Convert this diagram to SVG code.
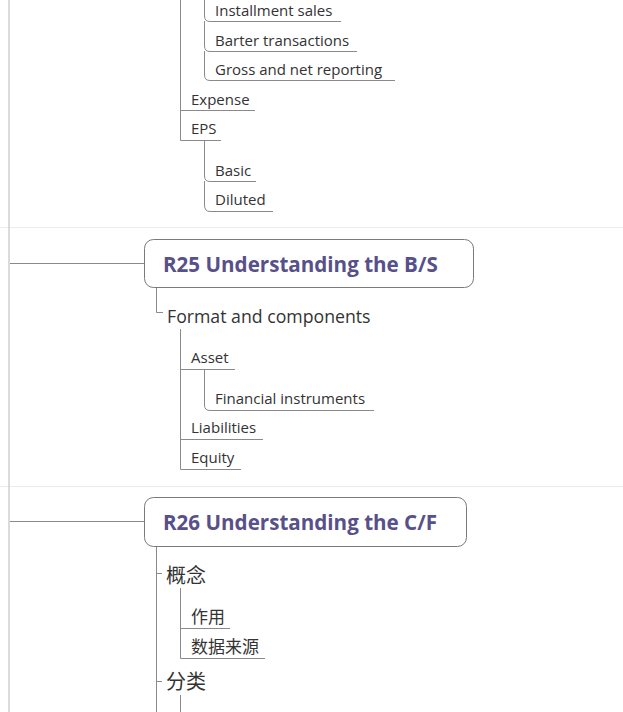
<svg xmlns="http://www.w3.org/2000/svg" width="623" height="712" viewBox="0 0 623 712">
<style>
.bg{fill:#ffffff}
.sep{stroke:#ececec;stroke-width:1;fill:none}
.rail{stroke:#cfcfcf;stroke-width:1.5;fill:none}
.ln{stroke:#8a8a8a;stroke-width:1;fill:none}
.box{fill:#ffffff;stroke:#7a7a7a;stroke-width:1}
.title{font-family:"Open Sans","Liberation Sans",sans-serif;font-weight:bold;font-size:20.6px;fill:#57508a}
.l2{font-family:"Open Sans","Liberation Sans",sans-serif;font-size:17.7px;fill:#333333}
.l3{font-family:"Open Sans","Liberation Sans",sans-serif;font-size:15px;fill:#333333}
.cjk2{font-family:"Noto Sans CJK SC",sans-serif;font-size:20px;fill:#333333}
.cjk3{font-family:"Noto Sans CJK SC",sans-serif;font-size:17px;fill:#333333}
</style>
<rect class="bg" x="0" y="0" width="623" height="712"/>
<g id="connectors">
  <line class="sep" x1="0" y1="227.5" x2="623" y2="227.5"/>
  <line class="sep" x1="0" y1="486.5" x2="623" y2="486.5"/>
  <line class="rail" x1="9" y1="0" x2="9" y2="712"/>
  <path class="ln" d="M180.5,0 V140.5 H221"/>
  <path class="ln" d="M180.5,110.5 H255"/>
  <path class="ln" d="M204.5,0 V16 Q204.5,21.5 210,21.5 H341"/>
  <path class="ln" d="M204.5,21 V46 Q204.5,51.5 210,51.5 H357"/>
  <path class="ln" d="M204.5,51 V75 Q204.5,80.5 210,80.5 H395"/>
  <path class="ln" d="M204.5,140.5 V176 Q204.5,181.5 210,181.5 H256"/>
  <path class="ln" d="M204.5,181 V205 Q204.5,211.5 210,211.5 H273"/>
  <line class="ln" x1="10" y1="263.5" x2="144" y2="263.5"/>
  <path class="ln" d="M156.5,288 V312.5 H163"/>
  <path class="ln" d="M180.5,329 V469.5 H241"/>
  <path class="ln" d="M180.5,369.5 H235"/>
  <path class="ln" d="M180.5,439.5 H263"/>
  <path class="ln" d="M204.5,369.5 V405 Q204.5,410.5 210,410.5 H374"/>
  <line class="ln" x1="10" y1="521.5" x2="144" y2="521.5"/>
  <path class="ln" d="M156.5,547 V712"/>
  <path class="ln" d="M156.5,573.5 H162"/>
  <path class="ln" d="M156.5,681.5 H162"/>
  <path class="ln" d="M180.5,588 V658.5 H265"/>
  <path class="ln" d="M180.5,628.5 H230"/>
  <path class="ln" d="M180.5,695 V712"/>
</g>
<g id="n-installment"><text class="l3" x="215" y="16">Installment sales</text></g>
<g id="n-barter"><text class="l3" x="215" y="46">Barter transactions</text></g>
<g id="n-gross"><text class="l3" x="215" y="75">Gross and net reporting</text></g>
<g id="n-expense"><text class="l3" x="191" y="105">Expense</text></g>
<g id="n-eps"><text class="l3" x="191" y="134">EPS</text></g>
<g id="n-basic"><text class="l3" x="215" y="176">Basic</text></g>
<g id="n-diluted"><text class="l3" x="215" y="205">Diluted</text></g>
<g id="n-r25">
  <rect class="box" x="144.5" y="239.5" width="329" height="48" rx="9"/>
  <text class="title" x="163" y="272">R25 Understanding the B/S</text>
</g>
<g id="n-format"><text class="l2" x="167" y="323">Format and components</text></g>
<g id="n-asset"><text class="l3" x="191" y="363">Asset</text></g>
<g id="n-fin"><text class="l3" x="215" y="404">Financial instruments</text></g>
<g id="n-liab"><text class="l3" x="191" y="433">Liabilities</text></g>
<g id="n-equity"><text class="l3" x="191" y="463">Equity</text></g>
<g id="n-r26">
  <rect class="box" x="144.5" y="497.5" width="322" height="49" rx="9"/>
  <text class="title" x="163" y="530">R26 Understanding the C/F</text>
</g>
<g id="n-gainian"><text class="cjk2" x="166" y="583">概念</text></g>
<g id="n-zuoyong"><text class="cjk3" x="191" y="623">作用</text></g>
<g id="n-shuju"><text class="cjk3" x="191" y="653">数据来源</text></g>
<g id="n-fenlei"><text class="cjk2" x="166" y="689">分类</text></g>
</svg>
